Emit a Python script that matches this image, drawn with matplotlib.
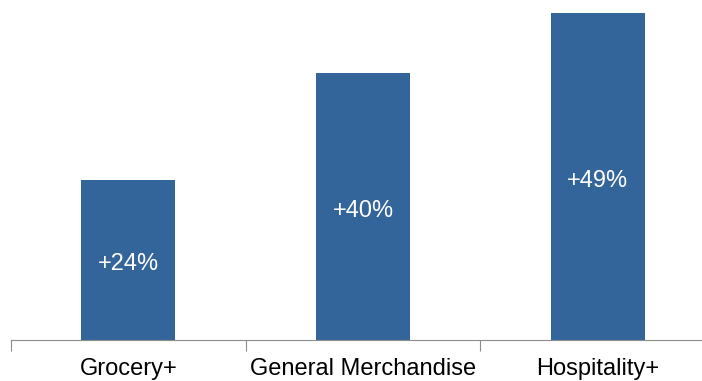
import matplotlib
matplotlib.use("Agg")
import matplotlib.pyplot as plt

categories = ["Grocery+", "General Merchandise", "Hospitality+"]
values = [24, 40, 49]
labels = ["+24%", "+40%", "+49%"]

plt.rcParams['font.family'] = ['Liberation Sans', 'DejaVu Sans']
fig = plt.figure(figsize=(7.02, 3.81), dpi=100)
W, H = 702, 381
left, right = 11, 715
bottom = H - 340
ax = fig.add_axes([left / W, bottom / H, (right - left) / W, (H - bottom) / H])
x = list(range(len(categories)))
bars = ax.bar(x, values, width=0.4, color="#34659A")
for xi, v, lab in zip(x, values, labels):
    ax.annotate(lab, (xi, v / 2), xytext=(0, -2), textcoords="offset pixels",
                ha="center", va="center_baseline", color="white", fontsize=17)
ax.set_xlim(-0.5, 2.5)
ax.set_ylim(0, 340 / 6.67)
for s in ["top", "right", "left"]:
    ax.spines[s].set_visible(False)
ax.spines["bottom"].set_color("#8c8c8c")
ax.set_yticks([])
ax.set_xticks([-0.5, 0.5, 1.5, 2.5])
ax.set_xticklabels([])
ax.set_xticks(x, minor=True)
ax.set_xticklabels(categories, minor=True, fontsize=17)
ax.tick_params(axis="x", which="major", length=8, color="#8c8c8c", direction="out")
ax.tick_params(axis="x", which="minor", length=0, pad=13)
fig.savefig("out.png", dpi=100)
